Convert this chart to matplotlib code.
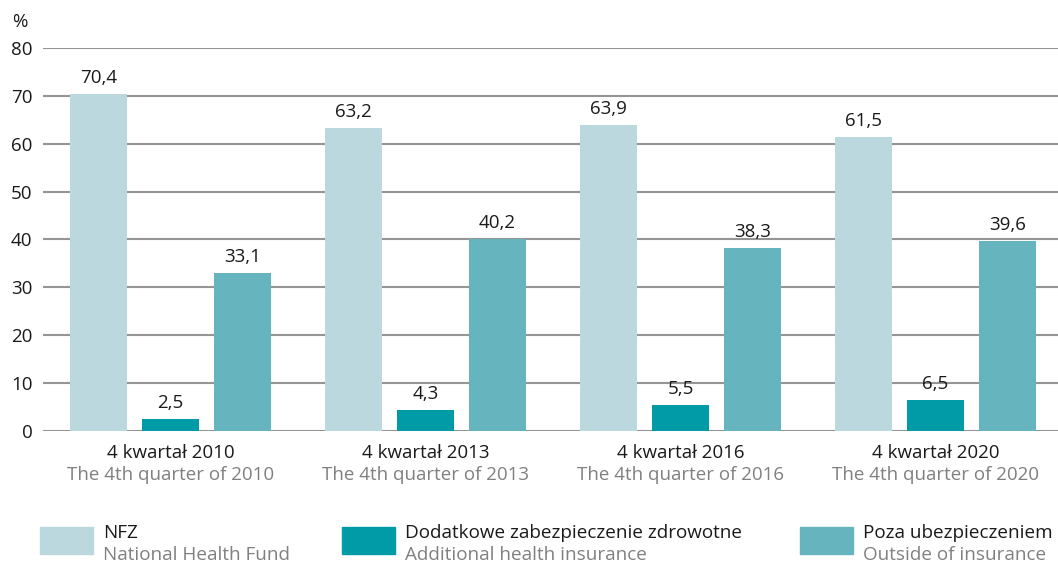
import numpy as np
import matplotlib.pyplot as plt
from matplotlib.patches import Rectangle

plt.rcParams['font.family'] = ['Open Sans', 'DejaVu Sans']

# Data
groups_pl = ['4 kwartał 2010', '4 kwartał 2013', '4 kwartał 2016', '4 kwartał 2020']
groups_en = ['The 4th quarter of 2010', 'The 4th quarter of 2013',
             'The 4th quarter of 2016', 'The 4th quarter of 2020']
series_pl = ['NFZ', 'Dodatkowe zabezpieczenie zdrowotne', 'Poza ubezpieczeniem']
series_en = ['National Health Fund', 'Additional health insurance', 'Outside of insurance']
nfz = [70.4, 63.2, 63.9, 61.5]
dodatkowe = [2.5, 4.3, 5.5, 6.5]
poza = [33.1, 40.2, 38.3, 39.6]
colors = ['#bad8de', '#009ba7', '#66b4bd']

W, H = 1058, 562
fig = plt.figure(figsize=(W / 100, H / 100), dpi=100)
ax = fig.add_axes([43 / W, 1 - 431 / H, 1 - 43 / W, (431 - 48) / H])

x = np.arange(len(groups_pl))
width = 57 / 255
offset = 72 / 255
values = [nfz, dodatkowe, poza]

for i, vals in enumerate(values):
    pos = x + (i - 1) * offset
    ax.bar(pos, vals, width=width, color=colors[i], zorder=3)
    for px, v in zip(pos, vals):
        ax.text(px, v + 2.3, f'{v:.1f}'.replace('.', ','), ha='center', va='baseline',
                fontsize=13.5, color='#1a1a1a')

ax.set_xlim(-0.5, (W - 43) / 255 - 0.5)
ax.set_ylim(0, 80)
ax.set_yticks(range(0, 81, 10))
ax.yaxis.grid(True, color='#959595', linewidth=1.5)
ax.set_axisbelow(True)
for s in ax.spines.values():
    s.set_visible(False)
ax.tick_params(axis='y', length=0, labelsize=13.5, pad=7.5, labelcolor='#1a1a1a')
ax.tick_params(axis='x', length=0)
ax.set_xticks([])

for i in x:
    ax.text(i, -5.64, groups_pl[i], ha='center', va='baseline', fontsize=13.5, color='#1a1a1a')
    ax.text(i, -10.23, groups_en[i], ha='center', va='baseline', fontsize=13.5, color='#808080')

fig.text(12 / W, 1 - 27 / H, '%', fontsize=13.5, color='#1a1a1a', va='baseline')

# Legend
sq_x = [40, 342, 800]
for i in range(3):
    fig.patches.append(Rectangle((sq_x[i] / W, 1 - 554 / H), 53 / W, 27 / H,
                                 transform=fig.transFigure, color=colors[i]))
    fig.text((sq_x[i] + 63) / W, 1 - 538 / H, series_pl[i], fontsize=13.6,
             color='#1a1a1a', va='baseline')
    fig.text((sq_x[i] + 63) / W, 1 - 560 / H, series_en[i], fontsize=13.6,
             color='#808080', va='baseline')

fig.savefig('out.png', dpi=100)
